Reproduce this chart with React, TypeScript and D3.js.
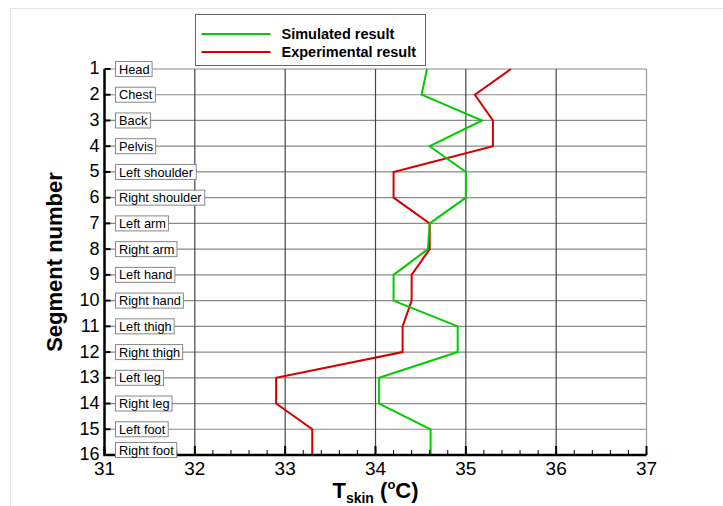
import * as d3 from 'd3';
import { useEffect, useRef } from 'react';

const segments = [1, 2, 3, 4, 5, 6, 7, 8, 9, 10, 11, 12, 13, 14, 15, 16];
const segmentNames = [
    'Head', 'Chest', 'Back', 'Pelvis', 'Left shoulder', 'Right shoulder',
    'Left arm', 'Right arm', 'Left hand', 'Right hand', 'Left thigh', 'Right thigh',
    'Left leg', 'Right leg', 'Left foot', 'Right foot'
];
const simulated = [34.57, 34.51, 35.18, 34.6, 35.0, 35.0, 34.6, 34.58, 34.2, 34.2, 34.91, 34.91, 34.04, 34.04, 34.61, 34.61];
const experimental = [35.5, 35.1, 35.3, 35.3, 34.2, 34.2, 34.6, 34.6, 34.4, 34.4, 34.3, 34.3, 32.9, 32.9, 33.3, 33.3];
const xTicks = [31, 32, 33, 34, 35, 36, 37];
const seriesNames = ['Simulated result', 'Experimental result'];

const FONT = '"Liberation Sans", Arial, Helvetica, sans-serif';

const App = () => {
    const svgRef = useRef<SVGSVGElement>(null);

    useEffect(() => {
        document.body.style.margin = '0';
        const svg = d3.select(svgRef.current);
        svg.selectAll('*').remove();

        const width = 723;
        const height = 506;

        // Scales
        const x = d3.scaleLinear().domain([31, 37]).range([104.5, 646.5]);
        const y = d3.scaleLinear().domain([1, 16]).range([69, 455]);

        // faint page frame
        svg.append('path')
            .attr('d', `M10.5,${height} V8.5 H${width}`)
            .attr('fill', 'none')
            .attr('stroke', '#e4e4e4')
            .attr('stroke-width', 1);

        const g = svg.append('g');

        // horizontal grid
        g.selectAll('.hgrid')
            .data(segments.slice(0, 15))
            .enter()
            .append('line')
            .attr('x1', x(31))
            .attr('x2', x(37))
            .attr('y1', (d) => y(d))
            .attr('y2', (d) => y(d))
            .attr('stroke', '#8a8a8a')
            .attr('stroke-width', 1.2);

        // vertical grid
        g.selectAll('.vgrid')
            .data(xTicks.slice(1))
            .enter()
            .append('line')
            .attr('x1', (d) => x(d))
            .attr('x2', (d) => x(d))
            .attr('y1', y(1))
            .attr('y2', y(16))
            .attr('stroke', (d) => (d === 37 ? '#999' : '#444'))
            .attr('stroke-width', 1.2);

        // Lines
        const line = d3.line<number>()
            .x((d) => x(d))
            .y((d, i) => y(segments[i]));

        g.append('path')
            .datum(experimental)
            .attr('fill', 'none')
            .attr('stroke', '#d40000')
            .attr('stroke-width', 2)
            .attr('d', line);

        g.append('path')
            .datum(simulated)
            .attr('fill', 'none')
            .attr('stroke', '#00cc00')
            .attr('stroke-width', 2)
            .attr('d', line);

        // Axes
        const xAxis = g.append('g').attr('transform', `translate(0,${y(16)})`);
        xAxis.selectAll('.minor')
            .data(d3.range(31, 37.001, 0.2))
            .enter()
            .append('line')
            .attr('x1', (d) => x(d))
            .attr('x2', (d) => x(d))
            .attr('y1', 0)
            .attr('y2', -5)
            .attr('stroke', '#000')
            .attr('stroke-width', 1);
        xAxis.selectAll('.major')
            .data(xTicks)
            .enter()
            .append('line')
            .attr('x1', (d) => x(d))
            .attr('x2', (d) => x(d))
            .attr('y1', 0)
            .attr('y2', -9)
            .attr('stroke', '#000')
            .attr('stroke-width', 2);
        xAxis.selectAll('.xlab')
            .data(xTicks)
            .enter()
            .append('text')
            .attr('x', (d) => x(d))
            .attr('y', 20)
            .attr('text-anchor', 'middle')
            .attr('font-family', FONT)
            .attr('font-size', 19)
            .text((d) => d);

        const yAxis = g.append('g').attr('transform', `translate(${x(31)},0)`);
        yAxis.selectAll('.ytick')
            .data(segments)
            .enter()
            .append('line')
            .attr('x1', 0)
            .attr('x2', 6)
            .attr('y1', (d) => y(d))
            .attr('y2', (d) => y(d))
            .attr('stroke', '#000')
            .attr('stroke-width', 2);
        yAxis.selectAll('.ylab')
            .data(segments)
            .enter()
            .append('text')
            .attr('x', -5)
            .attr('y', (d) => y(d) - 1)
            .attr('dy', '0.36em')
            .attr('text-anchor', 'end')
            .attr('font-family', FONT)
            .attr('font-size', 18)
            .text((d) => d);

        g.append('path')
            .attr('d', `M${x(31)},${y(1)} V${y(16)} H${x(37)}`)
            .attr('fill', 'none')
            .attr('stroke', '#000')
            .attr('stroke-width', 2.5);

        // segment name boxes (kept inside the plot area)
        const labels = g.selectAll('.seglabel')
            .data(segments)
            .enter()
            .append('g')
            .attr('transform', (d) => `translate(116,${Math.min(y(d), y(16) - 5)})`);

        labels.append('text')
            .attr('x', 3)
            .attr('y', 0)
            .attr('dy', '0.36em')
            .attr('font-family', FONT)
            .attr('font-size', 12.8)
            .attr('fill', '#000')
            .text((d, i) => segmentNames[i]);

        labels.each(function () {
            const grp = d3.select(this);
            const bb = (grp.select('text').node() as SVGTextElement).getBBox();
            grp.insert('rect', 'text')
                .attr('x', -0.5)
                .attr('y', -7.5)
                .attr('width', bb.width + 6)
                .attr('height', 15)
                .attr('fill', '#fff')
                .attr('stroke', '#888')
                .attr('stroke-width', 1);
        });

        // Axis labels
        const xl = svg.append('text')
            .attr('x', (x(31) + x(37)) / 2)
            .attr('y', 498)
            .attr('text-anchor', 'middle')
            .attr('font-family', FONT)
            .attr('font-weight', 'bold')
            .attr('font-size', 22);
        xl.append('tspan').text('T');
        xl.append('tspan').attr('font-size', 14).attr('dy', 5).text('skin');
        xl.append('tspan').attr('dy', -5).text(' (');
        xl.append('tspan').attr('font-size', 13).attr('dy', -9).text('o');
        xl.append('tspan').attr('dy', 9).text('C)');

        svg.append('text')
            .attr('transform', `translate(62,${(y(1) + y(16)) / 2}) rotate(-90)`)
            .attr('text-anchor', 'middle')
            .attr('font-family', FONT)
            .attr('font-weight', 'bold')
            .attr('font-size', 22)
            .text('Segment number');

        // Legend
        const legend = svg.append('g').attr('transform', 'translate(195.5,14.5)');
        legend.append('rect')
            .attr('width', 230)
            .attr('height', 51)
            .attr('fill', '#fff')
            .attr('stroke', '#666')
            .attr('stroke-width', 1);
        const colors = ['#00cc00', '#d40000'];
        seriesNames.forEach((name, i) => {
            const ly = 19.5 + i * 18;
            legend.append('line')
                .attr('x1', 6)
                .attr('x2', 75)
                .attr('y1', ly)
                .attr('y2', ly)
                .attr('stroke', colors[i])
                .attr('stroke-width', 2);
            legend.append('text')
                .attr('x', 86)
                .attr('y', ly)
                .attr('dy', '0.36em')
                .attr('font-family', FONT)
                .attr('font-weight', 'bold')
                .attr('font-size', 14.5)
                .text(name);
        });
    }, []);

    return (
        <svg ref={svgRef} width={723} height={506} style={{ display: 'block', background: '#fff' }}></svg>
    );
};

export default App;
